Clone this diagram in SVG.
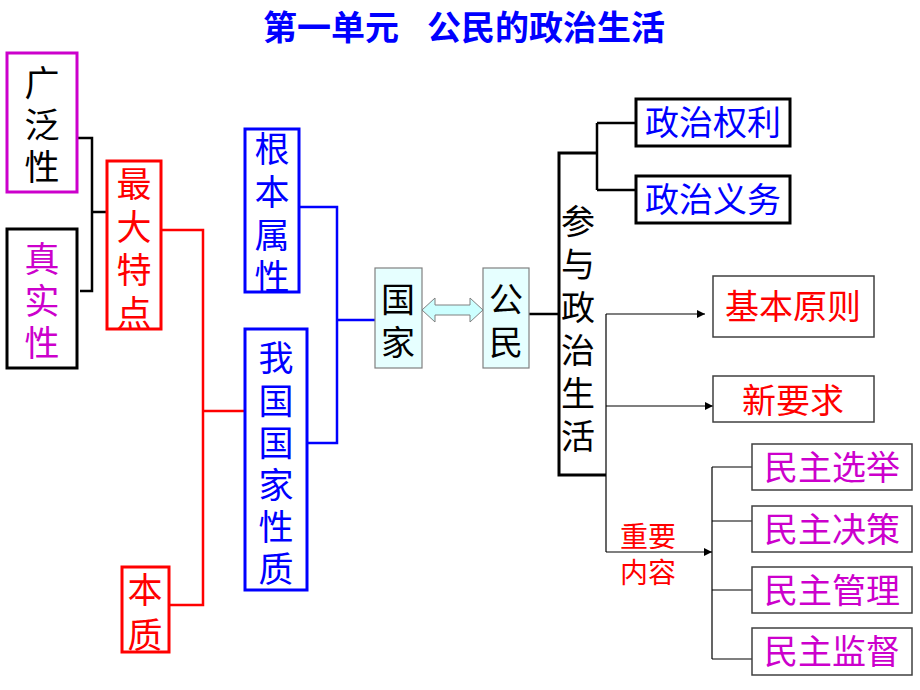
<svg xmlns="http://www.w3.org/2000/svg" width="920" height="690" viewBox="0 0 920 690">
<defs>
<marker id="ah" viewBox="0 0 10 10" refX="10" refY="5" markerWidth="10" markerHeight="8" markerUnits="userSpaceOnUse" orient="auto">
<path d="M0,0 L10,5 L0,10 z" fill="#000"/>
</marker>
</defs>
<style>
text{font-family:"Liberation Sans","Noto Sans CJK SC",sans-serif;dominant-baseline:central;text-anchor:middle}
.v{font-size:35px}
.h{font-size:34px}
.box{fill:#fff;stroke-width:3}
.thin{fill:#fff;stroke:#404040;stroke-width:1.5}
.cy{fill:#E6FFFF;stroke:#808080;stroke-width:1.2}
.blk{fill:none;stroke:#000;stroke-width:2.5}
.red{fill:none;stroke:#FF0000;stroke-width:2.5}
.blu{fill:none;stroke:#0000FF;stroke-width:2.5}
.ln{fill:none;stroke:#000;stroke-width:1.2}
.tb{fill:#0000FF}.tr{fill:#FF0000}.tm{fill:#CC00CC}.tk{fill:#000}
</style>
<rect width="920" height="690" fill="#fff"/>

<text id="title" class="tb" y="28" font-size="34" font-weight="bold" style="text-anchor:start"><tspan x="263">第一单元</tspan><tspan x="427">公民的政治生活</tspan></text>

<g id="connectors">
<path class="blk" d="M77,138 H92 V291 H80 M92,212 H107"/>
<path class="red" d="M161,230 H203 V605 H169 M203,411 H245"/>
<path class="blu" d="M299,207 H337 V443 H307 M337,320 H375"/>
<path class="blk" d="M529,314 H559"/>
<path class="blk" d="M597,123 V190 M597,123 H636 M597,190 H636"/>
<path class="ln" d="M606,314 V552"/>
<line class="ln" x1="606" y1="314" x2="705" y2="314" marker-end="url(#ah)"/>
<line class="ln" x1="606" y1="406" x2="713" y2="406" marker-end="url(#ah)"/>
<line class="ln" x1="606" y1="552" x2="712" y2="552" marker-end="url(#ah)"/>
<path class="ln" d="M712,467 V659 M712,467 H752 M712,521 H752 M712,590 H752 M712,659 H752"/>
<path d="M422,310 L435,298 L435,305 L470,305 L470,298 L483,310 L470,322 L470,315 L435,315 L435,322 Z" fill="#CCFFFF" stroke="#808080" stroke-width="1"/>
</g>

<g id="n-guangfan">
<rect class="box" x="7" y="53" width="70" height="139" stroke="#CC00CC"/>
<text class="v tk" x="42" y="83">广</text><text class="v tk" x="42" y="125">泛</text><text class="v tk" x="42" y="167">性</text>
</g>
<g id="n-zhenshi">
<rect class="box" x="7" y="229" width="70" height="139" stroke="#000"/>
<text class="v tm" x="42" y="259">真</text><text class="v tm" x="42" y="301">实</text><text class="v tm" x="42" y="343">性</text>
</g>
<g id="n-zuida">
<rect class="box" x="107" y="161" width="54" height="168" stroke="#FF0000"/>
<text class="v tr" x="134" y="184">最</text><text class="v tr" x="134" y="227">大</text><text class="v tr" x="134" y="270">特</text><text class="v tr" x="134" y="313">点</text>
</g>
<g id="n-benzhi">
<rect class="box" x="122" y="567" width="47" height="85" stroke="#FF0000"/>
<text class="v tr" x="145" y="590">本</text><text class="v tr" x="145" y="635">质</text>
</g>
<g id="n-genben">
<rect class="box" x="245" y="129" width="54" height="163" stroke="#0000FF"/>
<text class="v tb" x="272" y="149">根</text><text class="v tb" x="272" y="192">本</text><text class="v tb" x="272" y="235">属</text><text class="v tb" x="272" y="277">性</text>
</g>
<g id="n-woguo">
<rect class="box" x="245" y="329" width="62" height="261" stroke="#0000FF"/>
<text class="v tb" x="276" y="358">我</text><text class="v tb" x="276" y="401">国</text><text class="v tb" x="276" y="443">国</text><text class="v tb" x="276" y="485">家</text><text class="v tb" x="276" y="527">性</text><text class="v tb" x="276" y="569">质</text>
</g>
<g id="n-guojia">
<rect class="cy" x="375" y="268" width="47" height="100"/>
<text class="h tk" x="398" y="300">国</text><text class="h tk" x="398" y="343">家</text>
</g>
<g id="n-gongmin">
<rect class="cy" x="483" y="268" width="46" height="100"/>
<text class="h tk" x="506" y="300">公</text><text class="h tk" x="506" y="343">民</text>
</g>
<g id="n-canyu">
<path d="M597,153 H559 V475 H606" fill="none" stroke="#000" stroke-width="3"/>
<text class="h tk" x="578" y="222">参</text><text class="h tk" x="578" y="265">与</text><text class="h tk" x="578" y="308">政</text><text class="h tk" x="578" y="351">治</text><text class="h tk" x="578" y="394">生</text><text class="h tk" x="578" y="437">活</text>
</g>
<g id="n-quanli">
<rect class="box" x="636" y="99" width="154" height="47" stroke="#000"/>
<text class="h tb" x="713" y="123">政治权利</text>
</g>
<g id="n-yiwu">
<rect class="box" x="636" y="176" width="154" height="47" stroke="#000"/>
<text class="h tb" x="713" y="200">政治义务</text>
</g>
<g id="n-yuanze">
<rect class="thin" x="713" y="276" width="161" height="61"/>
<text class="h tr" x="793" y="307">基本原则</text>
</g>
<g id="n-xinyaoqiu">
<rect class="thin" x="713" y="376" width="161" height="46"/>
<text class="h tr" x="793" y="401">新要求</text>
</g>
<g id="n-zhongyao">
<text class="tr" font-size="28" x="648" y="537">重要</text>
<text class="tr" font-size="28" x="648" y="573">内容</text>
</g>
<g id="n-xuanju">
<rect class="thin" x="752" y="444" width="160" height="46"/>
<text class="h tm" x="832" y="468">民主选举</text>
</g>
<g id="n-juece">
<rect class="thin" x="752" y="506" width="160" height="46"/>
<text class="h tm" x="832" y="530">民主决策</text>
</g>
<g id="n-guanli">
<rect class="thin" x="752" y="567" width="160" height="46"/>
<text class="h tm" x="832" y="591">民主管理</text>
</g>
<g id="n-jiandu">
<rect class="thin" x="752" y="628" width="160" height="47"/>
<text class="h tm" x="832" y="652">民主监督</text>
</g>
</svg>
